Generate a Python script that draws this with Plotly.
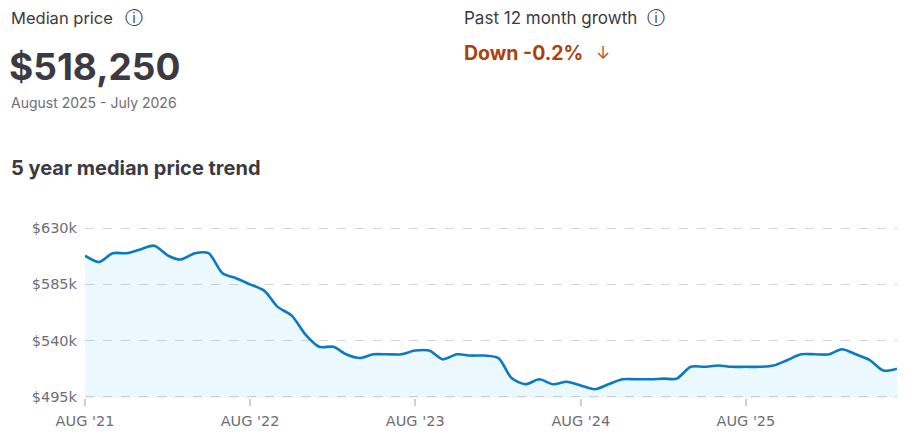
import pandas as pd
import plotly.graph_objects as go


# monthly median price, Aug 2021 - Jul 2026 (in $k)
months = pd.date_range('2021-08-01', periods=60, freq='MS')
prices_k = [
    608, 603, 610, 610, 613, 616, 608, 605, 610, 610, 594, 590,   # Aug 21 - Jul 22
    585, 580, 567, 560, 545, 535, 535, 529, 526, 529, 529, 529,   # Aug 22 - Jul 23
    532, 532, 525, 529, 528, 528, 526, 510, 505, 509, 505, 507,   # Aug 23 - Jul 24
    504, 501, 505, 509, 509, 509, 509.5, 509.5, 519, 519, 520, 519,  # Aug 24 - Jul 25
    519, 519, 520, 524.5, 529, 529, 529, 533, 529, 524.5, 516, 517.5,  # Aug 25 - Jul 26
]
prices = [p * 1000 for p in prices_k]

y_ticks = [495000, 540000, 585000, 630000]
y_labels = ['$495k', '$540k', '$585k', '$630k']
x_ticks = ['2021-08-01', '2022-08-01', '2023-08-01', '2024-08-01', '2025-08-01']
x_labels = ["AUG '21", "AUG '22", "AUG '23", "AUG '24", "AUG '25"]

FONT = 'Inter'
TICK_FONT = 'DejaVu Sans'
DARK = '#3b3a40'
GREY = '#6e6d75'

# the page body has an 8px margin, so the figure is drawn 8px in from the
# window corner; sizes below are chosen to fill the 906x442 window
PAGE = 8
W, H = 906 - PAGE, 442 - PAGE
L, R, T, B = 77, 9, 219, 44
pw, ph = W - L - R, H - T - B


def px(x):
    # window pixel -> paper x
    return (x - PAGE - L) / pw


def py(y):
    # window pixel -> paper y
    return (H - B - (y - PAGE)) / ph


fig = go.Figure()
fig.add_trace(go.Scatter(
    x=months, y=prices, mode='lines',
    line=dict(color='#0a7bc1', width=2.6, shape='spline', smoothing=0.8),
    # see-through fill so the dashed grid stays visible over it
    fill='tozeroy', fillcolor='rgba(0,165,229,0.08)',
    hoverinfo='skip', showlegend=False,
))

fig.update_layout(
    width=W, height=H,
    margin=dict(l=L, r=R, t=T, b=B),
    plot_bgcolor='white', paper_bgcolor='white',
    font=dict(family=FONT, color=DARK),
)
fig.update_xaxes(
    range=[months[0], months[-1]],
    tickvals=x_ticks, ticktext=x_labels,
    showgrid=False, zeroline=False, showline=False,
    ticks='outside', ticklen=7, tickcolor='#cfcfcf', tickwidth=1.5,
    ticklabelstandoff=3,
    tickfont=dict(size=14.5, color=GREY, family=TICK_FONT),
    automargin=False,
)
# a little padding so the first and last grid lines are still drawn
fig.update_yaxes(
    range=[494000, 631000],
    tickvals=y_ticks, ticktext=y_labels,
    showgrid=True, gridcolor='#d4d4d4', griddash='dash', gridwidth=1.2,
    zeroline=False, showline=False,
    ticklabelstandoff=7,
    tickfont=dict(size=14.5, color=GREY, family=TICK_FONT),
    automargin=False,
)


def note(text, x, y, size, color=DARK, bold=False):
    if bold:
        text = f'<b>{text}</b>'
    fig.add_annotation(
        text=text, x=px(x), y=py(y), xref='paper', yref='paper',
        xanchor='left', yanchor='middle', showarrow=False,
        font=dict(size=size, color=color, family=FONT),
    )


note('Median price', 9, 18, 16.5)
note('ⓘ', 123, 18, 18)
note('$518,250', 7, 66, 37, bold=True)
note('August 2025 - July 2026', 9, 102, 14, GREY)
note('5 year median price trend', 9, 168, 20, bold=True)
note('Past 12 month growth', 462, 18, 17)
note('ⓘ', 645, 18, 18)
note('Down -0.2%', 462, 53, 19.5, '#a8420e', bold=True)
note('↓', 594, 53, 17, '#b8531f')

fig.write_html('out.html')
